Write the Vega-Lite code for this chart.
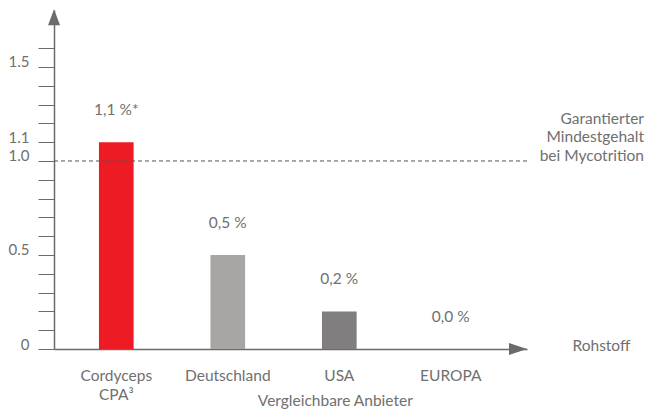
{
  "$schema": "https://vega.github.io/schema/vega-lite/v6.json",
  "width": 473,
  "height": 339,
  "autosize": {"type": "none"},
  "padding": {"left": 54, "top": 10, "right": 121, "bottom": 60},
  "background": "white",
  "config": {
    "view": {"stroke": null},
    "font": "Lato",
    "axisX": {
      "titleX": 518, "titleY": 1, "titleAlign": "left", "titleBaseline": "alphabetic",
      "titleFontWeight": "normal", "titleFontSize": 15.5, "titleColor": "#707070", "titleFont": "Lato",
      "domainColor": "#6b6b6b", "domainWidth": 1.5, "ticks": false, "tickSize": 0,
      "labelPadding": 31, "labelBaseline": "alphabetic", "labelFontSize": 15.5, "labelColor": "#707070",
      "labelLineHeight": 19, "labelAngle": 0, "labelExpr": "split(datum.label, ' ')",
      "labelOverlap": false, "labelFlush": false, "labelBound": false
    },
    "axisY": {
      "grid": false, "format": ".1f",
      "labelExpr": "indexof(['0.0','0.5','1.0','1.1','1.5'], datum.label) >= 0 ? (datum.label == '0.0' ? '0' : datum.label) : ''",
      "tickSize": 16, "tickColor": "#6b6b6b", "tickWidth": 1,
      "domainColor": "#6b6b6b", "domainWidth": 1.5,
      "labelPadding": 9, "labelFontSize": 15, "labelColor": "#707070", "labelBaseline": "alphabetic",
      "labelOverlap": false, "labelFlush": false, "labelBound": false
    }
  },
  "datasets": {
    "bars": [
      {"cat": "Cordyceps CPA³", "value": 1.1, "label": "1,1 %*"},
      {"cat": "Deutschland", "value": 0.5, "label": "0,5 %"},
      {"cat": "USA", "value": 0.2, "label": "0,2 %"},
      {"cat": "EUROPA", "value": 0.0, "label": "0,0 %"}
    ],
    "notes": [
      {"cat": "USA", "value": 0, "note": "Vergleichbare Anbieter"}
    ],
    "ref": [
      {"value": 1.0, "note": ["Garantierter", "Mindestgehalt", "bei Mycotrition"]}
    ]
  },
  "layer": [
    {
      "data": {"name": "bars"},
      "mark": {"type": "bar"},
      "encoding": {
        "x": {
          "field": "cat", "type": "nominal", "sort": null,
          "scale": {"paddingInner": 0.689, "paddingOuter": 0.4655, "align": 0.433, "round": false},
          "axis": {"title": "Rohstoff"}
        },
        "y": {
          "field": "value", "type": "quantitative",
          "scale": {"domain": [0, 1.803], "nice": false, "zero": true},
          "axis": {"title": null, "values": [0, 0.1, 0.2, 0.3, 0.4, 0.5, 0.6, 0.7, 0.8, 0.9, 1.0, 1.1, 1.2, 1.3, 1.4, 1.5, 1.6]}
        },
        "color": {
          "field": "cat", "type": "nominal", "legend": null,
          "scale": {"domain": ["Cordyceps CPA³", "Deutschland", "USA", "EUROPA"], "range": ["#ED1C24", "#A8A5A5", "#807E7E", "#807E7E"]}
        }
      }
    },
    {
      "data": {"name": "bars"},
      "mark": {"type": "text", "baseline": "alphabetic", "dy": -27, "fontSize": 15.5, "color": "#707070"},
      "encoding": {
        "x": {"field": "cat", "type": "nominal", "sort": null, "axis": {"title": "Rohstoff"}},
        "y": {"field": "value", "type": "quantitative", "axis": {"title": null, "values": [0, 0.1, 0.2, 0.3, 0.4, 0.5, 0.6, 0.7, 0.8, 0.9, 1.0, 1.1, 1.2, 1.3, 1.4, 1.5, 1.6]}},
        "text": {"field": "label"}
      }
    },
    {
      "data": {"name": "ref"},
      "mark": {"type": "rule", "strokeDash": [4, 3], "color": "#555555", "strokeWidth": 1},
      "encoding": {"y": {"field": "value", "type": "quantitative", "axis": {"title": null, "values": [0, 0.1, 0.2, 0.3, 0.4, 0.5, 0.6, 0.7, 0.8, 0.9, 1.0, 1.1, 1.2, 1.3, 1.4, 1.5, 1.6]}}}
    },
    {
      "data": {"name": "ref"},
      "mark": {"type": "text", "align": "right", "baseline": "alphabetic", "dx": 117, "dy": -37, "lineHeight": 18.5, "fontSize": 15.5, "color": "#707070"},
      "encoding": {
        "x": {"value": "width"},
        "y": {"field": "value", "type": "quantitative", "axis": {"title": null, "values": [0, 0.1, 0.2, 0.3, 0.4, 0.5, 0.6, 0.7, 0.8, 0.9, 1.0, 1.1, 1.2, 1.3, 1.4, 1.5, 1.6]}},
        "text": {"field": "note"}
      }
    },
    {
      "data": {"name": "notes"},
      "mark": {"type": "text", "baseline": "alphabetic", "dy": 57, "dx": -4, "fontSize": 15.5, "color": "#707070"},
      "encoding": {
        "x": {"field": "cat", "type": "nominal", "sort": null, "axis": {"title": "Rohstoff"}},
        "y": {"field": "value", "type": "quantitative", "axis": {"title": null, "values": [0, 0.1, 0.2, 0.3, 0.4, 0.5, 0.6, 0.7, 0.8, 0.9, 1.0, 1.1, 1.2, 1.3, 1.4, 1.5, 1.6]}},
        "text": {"field": "note"}
      }
    },
    {
      "data": {"values": [{}]},
      "mark": {"type": "point", "shape": "M0,-1L-0.75,1L0.75,1Z", "size": 256, "filled": true, "color": "#6b6b6b", "opacity": 1},
      "encoding": {"x": {"value": 0}, "y": {"datum": 1.765, "axis": {"title": null, "values": [0, 0.1, 0.2, 0.3, 0.4, 0.5, 0.6, 0.7, 0.8, 0.9, 1.0, 1.1, 1.2, 1.3, 1.4, 1.5, 1.6]}}}
    },
    {
      "data": {"values": [{}]},
      "mark": {"type": "point", "shape": "M0,0L-2.25,-0.75L-2.25,0.75Z", "size": 256, "filled": true, "color": "#6b6b6b", "opacity": 1},
      "encoding": {"x": {"value": "width"}, "y": {"datum": 0, "axis": {"title": null, "values": [0, 0.1, 0.2, 0.3, 0.4, 0.5, 0.6, 0.7, 0.8, 0.9, 1.0, 1.1, 1.2, 1.3, 1.4, 1.5, 1.6]}}}
    }
  ]
}
